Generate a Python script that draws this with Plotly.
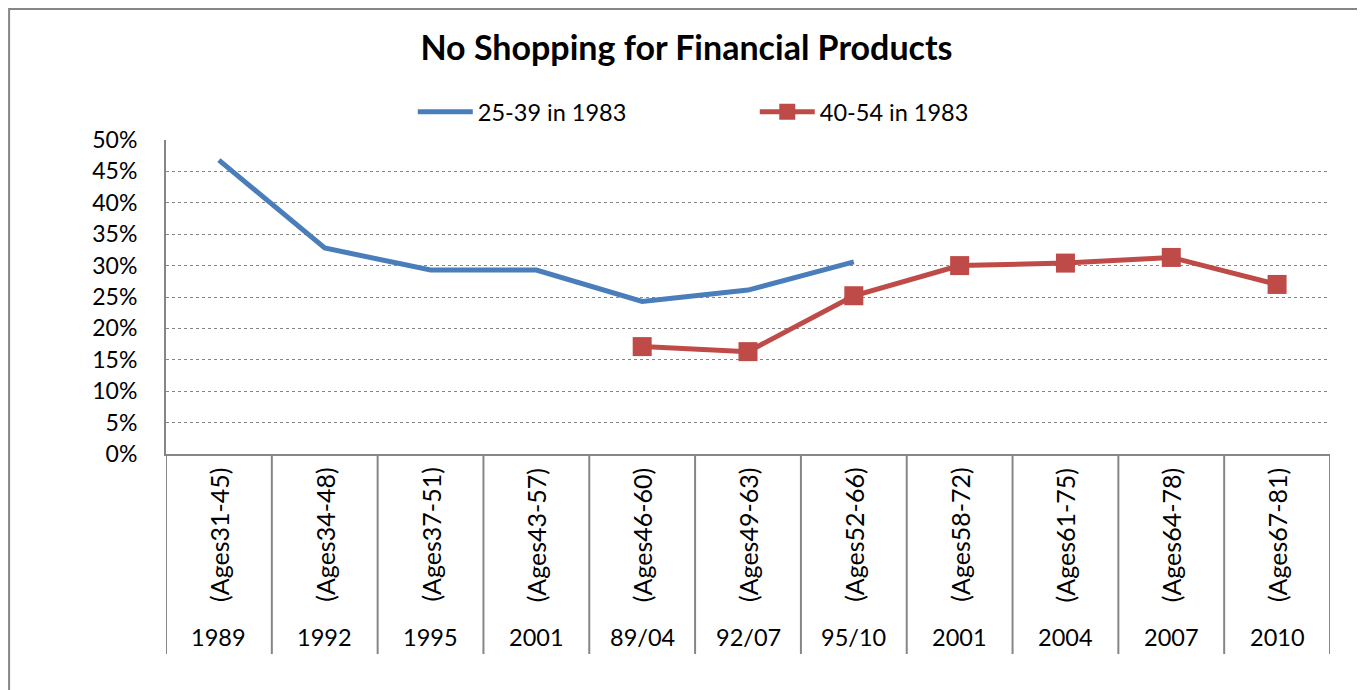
import plotly.graph_objects as go

years = ["1989", "1992", "1995", "2001", "89/04", "92/07", "95/10", "2001", "2004", "2007", "2010"]
ages = ["(Ages31-45)", "(Ages34-48)", "(Ages37-51)", "(Ages43-57)", "(Ages46-60)", "(Ages49-63)",
        "(Ages52-66)", "(Ages58-72)", "(Ages61-75)", "(Ages64-78)", "(Ages67-81)"]
cohort_25_39 = [0.468, 0.328, 0.293, 0.293, 0.243, 0.261, 0.306, None, None, None, None]
cohort_40_54 = [None, None, None, None, 0.171, 0.163, 0.252, 0.300, 0.304, 0.313, 0.270]

BLUE = "#4a7ebb"
RED = "#be4b48"
GREY = "#868686"
FONT = "Lato, 'Open Sans', sans-serif"

cats = [f"{y} {a}" for y, a in zip(years, ages)]

fig = go.Figure()
fig.add_trace(go.Scatter(
    x=cats, y=cohort_25_39, mode="lines", name="25-39 in 1983",
    line=dict(color=BLUE, width=5),
))
fig.add_trace(go.Scatter(
    x=cats, y=cohort_40_54, mode="lines+markers", name="40-54 in 1983",
    line=dict(color=RED, width=5),
    marker=dict(symbol="square", size=19, color=RED),
))

# category table below the plot
annotations = []
for c, y, a in zip(cats, years, ages):
    annotations.append(dict(x=c, xref="x", y=-0.258, yref="paper", yanchor="middle", xanchor="center",
                            text=a, textangle=-90, showarrow=False,
                            font=dict(size=25, color="black", family=FONT)))
    annotations.append(dict(x=c, xref="x", y=-0.583, yref="paper", yanchor="middle", xanchor="center",
                            text=y, showarrow=False,
                            font=dict(size=23.5, color="black", family=FONT)))
shapes = []
for i in range(len(cats) + 1):
    shapes.append(dict(type="line", xref="x", yref="paper", x0=i - 0.5, x1=i - 0.5, y0=0, y1=-0.637,
                       line=dict(color=GREY, width=2)))
# outer chart border
shapes.append(dict(type="rect", xref="paper", yref="paper", x0=-0.1348, x1=1.0249, y0=-1.0, y1=1.417,
                   line=dict(color=GREY, width=2)))

fig.update_layout(
    width=1357, height=682,
    title=dict(text="<b>No Shopping for Financial Products</b>", x=0.5, xanchor="center",
               y=0.941, yanchor="middle", font=dict(size=34, color="black", family=FONT)),
    font=dict(family=FONT, size=23, color="black"),
    plot_bgcolor="white", paper_bgcolor="white",
    margin=dict(l=158, r=35, t=132, b=236),
    showlegend=True,
    legend=dict(orientation="h", x=0.212, xanchor="left", y=1.089, yanchor="middle",
                font=dict(size=23.5, family=FONT), itemwidth=55,
                entrywidth=272, entrywidthmode="pixels", tracegroupgap=0),
    xaxis=dict(type="category", range=[-0.5, 10.5], showticklabels=False, showgrid=False,
               showline=True, linecolor=GREY, linewidth=2, ticks="", zeroline=False),
    yaxis=dict(range=[0, 0.5], dtick=0.05, tickformat=".0%", showgrid=True,
               gridcolor=GREY, griddash="dot", gridwidth=1, showline=True, linecolor=GREY,
               linewidth=2, ticks="", ticklen=0, zeroline=False, ticklabelstandoff=22,
               tickfont=dict(size=23, family=FONT)),
    annotations=annotations,
    shapes=shapes,
)

fig.write_html("out.html")
